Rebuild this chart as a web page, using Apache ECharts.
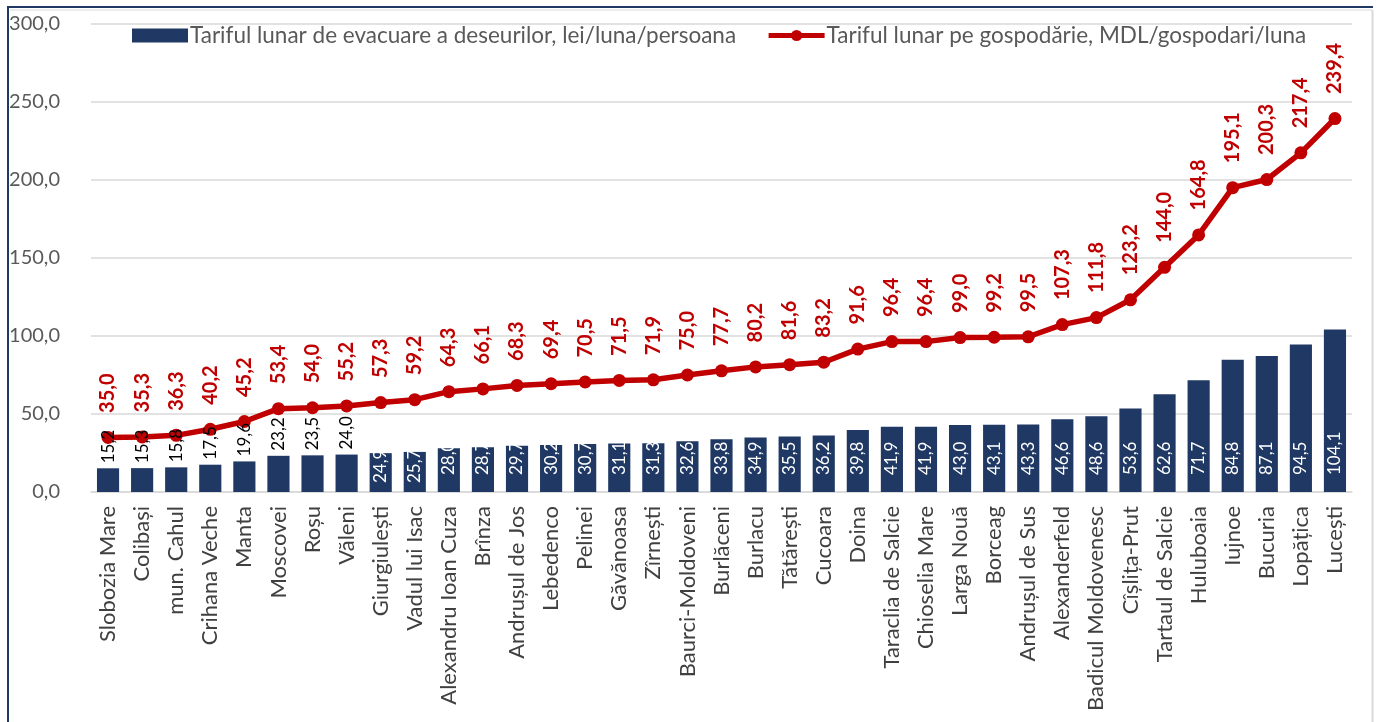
<!DOCTYPE html>
<html>
<head>
<meta charset="utf-8">
<script src="https://cdn.jsdelivr.net/npm/echarts@6/dist/echarts.min.js"></script>
<style>
  html, body { margin: 0; padding: 0; background: #ffffff; }
  #chart { width: 1378px; height: 722px; }
</style>
</head>
<body>
<div id="chart"></div>
<script>
// Localities, sorted by the household tariff
const categories = [
  'Slobozia Mare', 'Colibași', 'mun. Cahul', 'Crihana Veche', 'Manta', 'Moscovei',
  'Roșu', 'Văleni', 'Giurgiulești', 'Vadul lui Isac', 'Alexandru Ioan Cuza', 'Brînza',
  'Andrușul de Jos', 'Lebedenco', 'Pelinei', 'Găvănoasa', 'Zîrnești', 'Baurci-Moldoveni',
  'Burlăceni', 'Burlacu', 'Tătărești', 'Cucoara', 'Doina', 'Taraclia de Salcie',
  'Chioselia Mare', 'Larga Nouă', 'Borceag', 'Andrușul de Sus', 'Alexanderfeld',
  'Badicul Moldovenesc', 'Cîșlița-Prut', 'Tartaul de Salcie', 'Huluboaia', 'Iujnoe',
  'Bucuria', 'Lopățica', 'Lucești'
];

// Monthly waste collection tariff, lei per person
const perPerson = [
  15.2, 15.3, 15.8, 17.5, 19.6, 23.2, 23.5, 24.0, 24.9, 25.7, 28.0, 28.7,
  29.7, 30.2, 30.7, 31.1, 31.3, 32.6, 33.8, 34.9, 35.5, 36.2, 39.8, 41.9,
  41.9, 43.0, 43.1, 43.3, 46.6, 48.6, 53.6, 62.6, 71.7, 84.8, 87.1, 94.5, 104.1
];

// Monthly tariff per household, MDL
const perHousehold = [
  35.0, 35.3, 36.3, 40.2, 45.2, 53.4, 54.0, 55.2, 57.3, 59.2, 64.3, 66.1,
  68.3, 69.4, 70.5, 71.5, 71.9, 75.0, 77.7, 80.2, 81.6, 83.2, 91.6, 96.4,
  96.4, 99.0, 99.2, 99.5, 107.3, 111.8, 123.2, 144.0, 164.8, 195.1, 200.3, 217.4, 239.4
];

const seriesNames = [
  'Tariful lunar de evacuare a deseurilor, lei/luna/persoana',
  'Tariful lunar pe gospodărie, MDL/gospodari/luna'
];

const FONT = 'Lato, "Open Sans", "Noto Sans", sans-serif';
const fmt = v => Number(v).toFixed(1).replace('.', ',');

// Short bars carry their label above the bar in black; the others inside, in white
const barData = perPerson.map(v => {
  if (v < 24.5) {
    return {
      value: v,
      label: {
        position: 'top', distance: 5, color: '#000000',
        align: 'left', verticalAlign: 'middle', rotate: 90
      }
    };
  }
  return {
    value: v,
    label: {
      position: 'insideBottom', distance: v < 27 ? 9 : 17, color: '#ffffff',
      align: 'left', verticalAlign: 'middle', rotate: 90
    }
  };
});

const chart = echarts.init(document.getElementById('chart'), null, { renderer: 'canvas' });

chart.setOption({
  animation: false,
  textStyle: { fontFamily: FONT },
  grid: { left: 91, right: 26, top: 24, bottom: 230, containLabel: false },
  legend: {
    top: 19,
    left: 127,
    itemWidth: 56,
    itemHeight: 14,
    itemGap: 30,
    textStyle: { fontFamily: FONT, fontSize: 22.5, color: '#595959', padding: [0, 0, 0, -3] },
    data: [
      { name: seriesNames[0], icon: 'rect' },
      {
        name: seriesNames[1],
        lineStyle: { width: 5, color: '#C00000' },
        itemStyle: { color: '#C00000' }
      }
    ]
  },
  xAxis: {
    type: 'category',
    data: categories,
    axisTick: { show: false },
    axisLine: { lineStyle: { color: '#D9D9D9', width: 1.5 } },
    axisLabel: {
      interval: 0,
      rotate: 90,
      margin: 14,
      fontFamily: FONT,
      fontSize: 22,
      color: '#404040'
    }
  },
  yAxis: {
    type: 'value',
    min: 0,
    max: 300,
    interval: 50,
    axisLine: { show: false },
    axisTick: { show: false },
    splitLine: { lineStyle: { color: '#D9D9D9', width: 1.5 } },
    axisLabel: {
      margin: 31,
      fontFamily: FONT,
      fontSize: 20,
      color: '#595959',
      formatter: v => fmt(v)
    }
  },
  series: [
    {
      name: seriesNames[0],
      type: 'bar',
      data: barData,
      barCategoryGap: '35%',
      itemStyle: { color: '#1F3864' },
      label: {
        show: true,
        fontFamily: FONT,
        fontSize: 17,
        formatter: p => fmt(p.value)
      },
      z: 4
    },
    {
      name: seriesNames[1],
      type: 'line',
      data: perHousehold,
      symbol: 'circle',
      symbolSize: 13,
      lineStyle: { color: '#C00000', width: 5.5 },
      itemStyle: { color: '#C00000' },
      label: {
        show: true,
        position: 'top',
        distance: 18,
        rotate: 90,
        align: 'left',
        verticalAlign: 'middle',
        fontFamily: FONT,
        fontSize: 20,
        fontWeight: 'bold',
        color: '#C00000',
        formatter: p => fmt(p.value)
      },
      z: 3
    }
  ],
  graphic: [
    // outer frame of the figure
    { type: 'line', shape: { x1: 7, y1: 7, x2: 1373, y2: 7 }, style: { stroke: '#1F3864', lineWidth: 2 } },
    { type: 'line', shape: { x1: 8, y1: 7, x2: 8, y2: 722 }, style: { stroke: '#1F3864', lineWidth: 2 } },
    { type: 'line', shape: { x1: 10, y1: 10, x2: 1372, y2: 10 }, style: { stroke: '#D9D9D9', lineWidth: 1 } },
    { type: 'line', shape: { x1: 1372.5, y1: 10, x2: 1372.5, y2: 722 }, style: { stroke: '#D9D9D9', lineWidth: 2 } }
  ]
});
</script>
</body>
</html>
